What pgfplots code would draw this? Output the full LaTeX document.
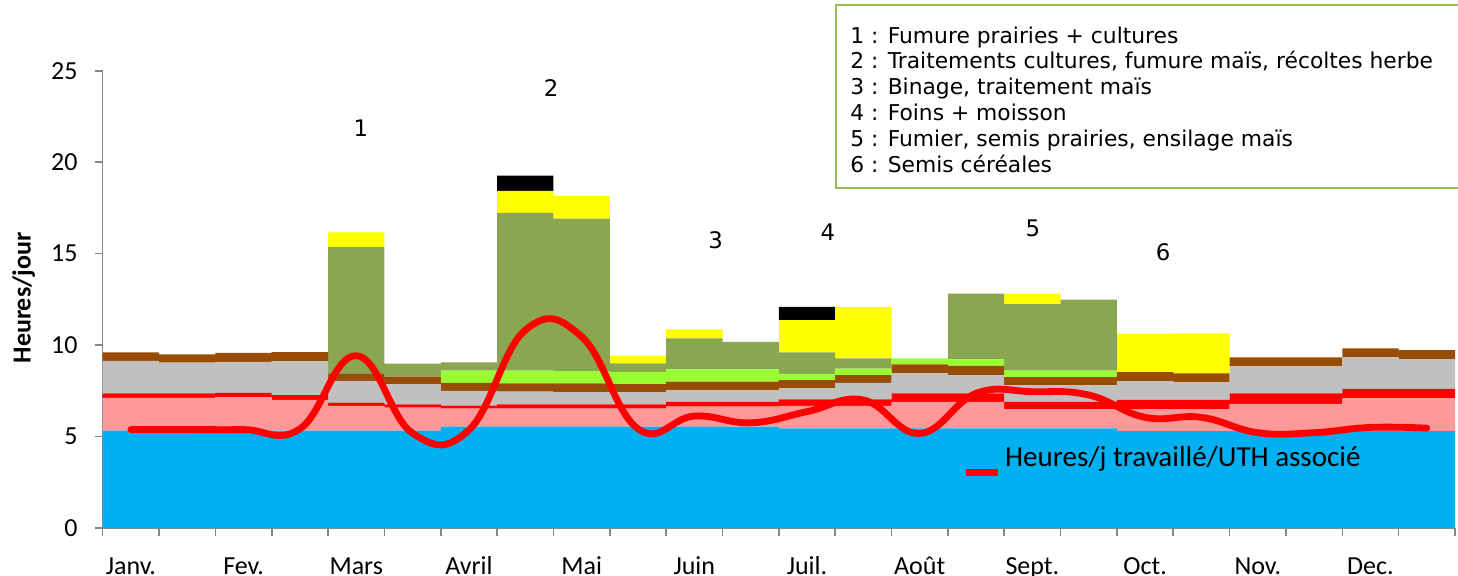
\documentclass[border=0pt]{standalone}
\usepackage{fontspec}
\setmainfont{Carlito}
\newfontfamily\verd{DejaVu Sans}
\usepackage{pgfplots}
\pgfplotsset{compat=1.18}
\usepackage{pgfplotstable}

\definecolor{cblue}{HTML}{00B0F0}
\definecolor{cpink}{HTML}{FF9999}
\definecolor{cred}{HTML}{FF0000}
\definecolor{cgray}{HTML}{C0C0C0}
\definecolor{cbrown}{HTML}{994C05}
\definecolor{clgreen}{HTML}{99FF33}
\definecolor{colive}{HTML}{8BA650}
\definecolor{cyellow}{HTML}{FFFF00}
\definecolor{axisgray}{HTML}{868686}
\definecolor{boxgreen}{HTML}{9BBB59}

\pgfplotstableread{
x B P R G Br LG O Y K
0 5.33 1.79 0.24 1.77 0.47 0 0 0 0
1 5.33 1.79 0.24 1.68 0.45 0 0 0 0
2 5.33 1.83 0.23 1.69 0.50 0 0 0 0
3 5.33 1.68 0.26 1.84 0.51 0 0 0 0
4 5.33 1.34 0.18 1.20 0.38 0 6.94 0.79 0
5 5.33 1.25 0.18 1.09 0.42 0 0.71 0 0
6 5.54 0.98 0.17 0.81 0.44 0.66 0.45 0 0
7 5.54 0.98 0.24 0.70 0.44 0.70 8.63 1.20 0.84
8 5.54 0.98 0.24 0.65 0.49 0.68 8.34 1.22 0
9 5.54 0.98 0.24 0.65 0.46 0.65 0.48 0.42 0
10 5.54 1.09 0.26 0.65 0.46 0.67 1.70 0.49 0
11 5.54 1.09 0.26 0.65 0.46 0.67 1.51 0 0
12 5.45 1.22 0.36 0.60 0.46 0.33 1.18 1.77 0.72
13 5.45 1.22 0.36 0.91 0.42 0.35 0.56 2.82 0
14 5.45 1.45 0.46 1.09 0.49 0.33 0 0 0
15 5.45 1.45 0.46 1.00 0.51 0.35 3.60 0 0
16 5.45 1.05 0.40 0.90 0.45 0.35 3.64 0.58 0
17 5.45 1.05 0.40 0.90 0.45 0.35 3.89 0 0
18 5.30 1.20 0.51 1.02 0.49 0 0 2.10 0
19 5.30 1.20 0.51 0.95 0.49 0 0 2.19 0
20 5.30 1.48 0.58 1.47 0.50 0 0 0 0
21 5.30 1.48 0.58 1.47 0.50 0 0 0 0
22 5.30 1.79 0.51 1.73 0.49 0 0 0 0
23 5.30 1.79 0.51 1.63 0.50 0 0 0 0
}\bars

\pgfplotstableread{
x v
0 5.38
1 5.38
2 5.38
3 5.42
4 9.42
5 5.18
6 5.36
7 10.82
8 10.46
9 5.42
10 6.12
11 5.75
12 6.36
13 7.00
14 5.17
15 7.36
16 7.45
17 7.27
18 6.05
19 6.05
20 5.21
21 5.21
22 5.50
23 5.46
}\uth

\begin{document}
\begin{tikzpicture}
\begin{axis}[
  at={(0,0)}, anchor=south west,
  scale only axis, width=676.15pt, height=228.65pt,
  xmin=-0.5, xmax=23.5, ymin=0, ymax=25,
  ybar stacked, bar width=1,
  axis lines*=left,
  axis line style={draw=axisgray, line width=0.8pt},
  tick style={draw=axisgray, line width=0.8pt},
  tick align=outside,
  major tick length=4pt,
  xtick={-0.5,0.5,...,23.5},
  xticklabels={},
  extra x ticks={0,2,...,22},
  extra x tick labels={Janv.,Fev.,Mars,Avril,Mai,Juin,Juil.,Août,Sept.,Oct.,Nov.,Dec.},
  extra x tick style={major tick length=0pt,
     xticklabel style={anchor=base, yshift=-23.2pt}},
  ytick={0,5,...,25},
  ticklabel style={font=\fontsize{13}{15}\selectfont},
  yticklabel style={anchor=east, inner sep=0pt, xshift=-8.35pt},
  /pgf/number format/assume math mode=true,
  ylabel={Heures/jour},
  every axis y label/.style={at={(axis description cs:-0.0584,0.503)}, rotate=90, anchor=center, font=\bfseries\fontsize{13}{15}\selectfont},
  clip=false,
]
\addplot[fill=cblue, draw=none] table[x=x, y=B] {\bars};
\addplot[fill=cpink, draw=none] table[x=x, y=P] {\bars};
\addplot[fill=cred, draw=none] table[x=x, y=R] {\bars};
\addplot[fill=cgray, draw=none] table[x=x, y=G] {\bars};
\addplot[fill=cbrown, draw=none] table[x=x, y=Br] {\bars};
\addplot[fill=clgreen, draw=none] table[x=x, y=LG] {\bars};
\addplot[fill=colive, draw=none] table[x=x, y=O] {\bars};
\addplot[fill=cyellow, draw=none] table[x=x, y=Y] {\bars};
\addplot[fill=black, draw=none] table[x=x, y=K] {\bars};
\node[font=\verd\fontsize{11.4}{13}\selectfont] at (axis cs:4.08,21.86) {1};
\node[font=\verd\fontsize{11.4}{13}\selectfont] at (axis cs:7.46,24.04) {2};
\node[font=\verd\fontsize{11.4}{13}\selectfont] at (axis cs:10.38,15.74) {3};
\node[font=\verd\fontsize{11.4}{13}\selectfont] at (axis cs:12.37,16.17) {4};
\node[font=\verd\fontsize{11.4}{13}\selectfont] at (axis cs:16.01,16.39) {5};
\node[font=\verd\fontsize{11.4}{13}\selectfont] at (axis cs:18.32,15.08) {6};
\end{axis}
\begin{axis}[
  at={(0,0)}, anchor=south west,
  scale only axis, width=676.15pt, height=228.65pt,
  xmin=-0.5, xmax=23.5, ymin=0, ymax=25,
  axis lines=none,
  legend style={at={(axis cs:14.75,3.77)}, anchor=west, draw=none, fill=none,
     inner sep=0pt, font=\fontsize{14.5}{16}\selectfont},
  legend image code/.code={\draw[#1, line width=3.4pt, line cap=butt] (0pt,-7.3pt) -- (16pt,-7.3pt);},
  legend cell align=left,
]
\addplot[cred, line width=3.4pt, smooth, tension=0.72, line cap=round] table[x=x, y=v] {\uth};
\addlegendentry{Heures/j travaillé/UTH associé}
\end{axis}
\draw[draw=boxgreen, line width=1pt, fill=white] (366.65pt,170.25pt) rectangle (720pt,261.5pt);
\begin{scope}[every node/.style={anchor=base west, inner sep=0pt, font=\verd\fontsize{10.9}{12.9}\selectfont}]
\node at (373.65pt,242.5pt) {1 : Fumure prairies + cultures};
\node at (373.65pt,229.6pt) {2 : Traitements cultures, fumure maïs, récoltes herbe};
\node at (373.65pt,216.7pt) {3 : Binage, traitement maïs};
\node at (373.65pt,203.8pt) {4 : Foins + moisson};
\node at (373.65pt,190.9pt) {5 : Fumier, semis prairies, ensilage maïs};
\node at (373.65pt,178.0pt) {6 : Semis céréales};
\end{scope}
\pgfresetboundingbox
\path[use as bounding box] (-51.35pt,-23.5pt) rectangle (677.65pt,264pt);
\end{tikzpicture}
\end{document}
